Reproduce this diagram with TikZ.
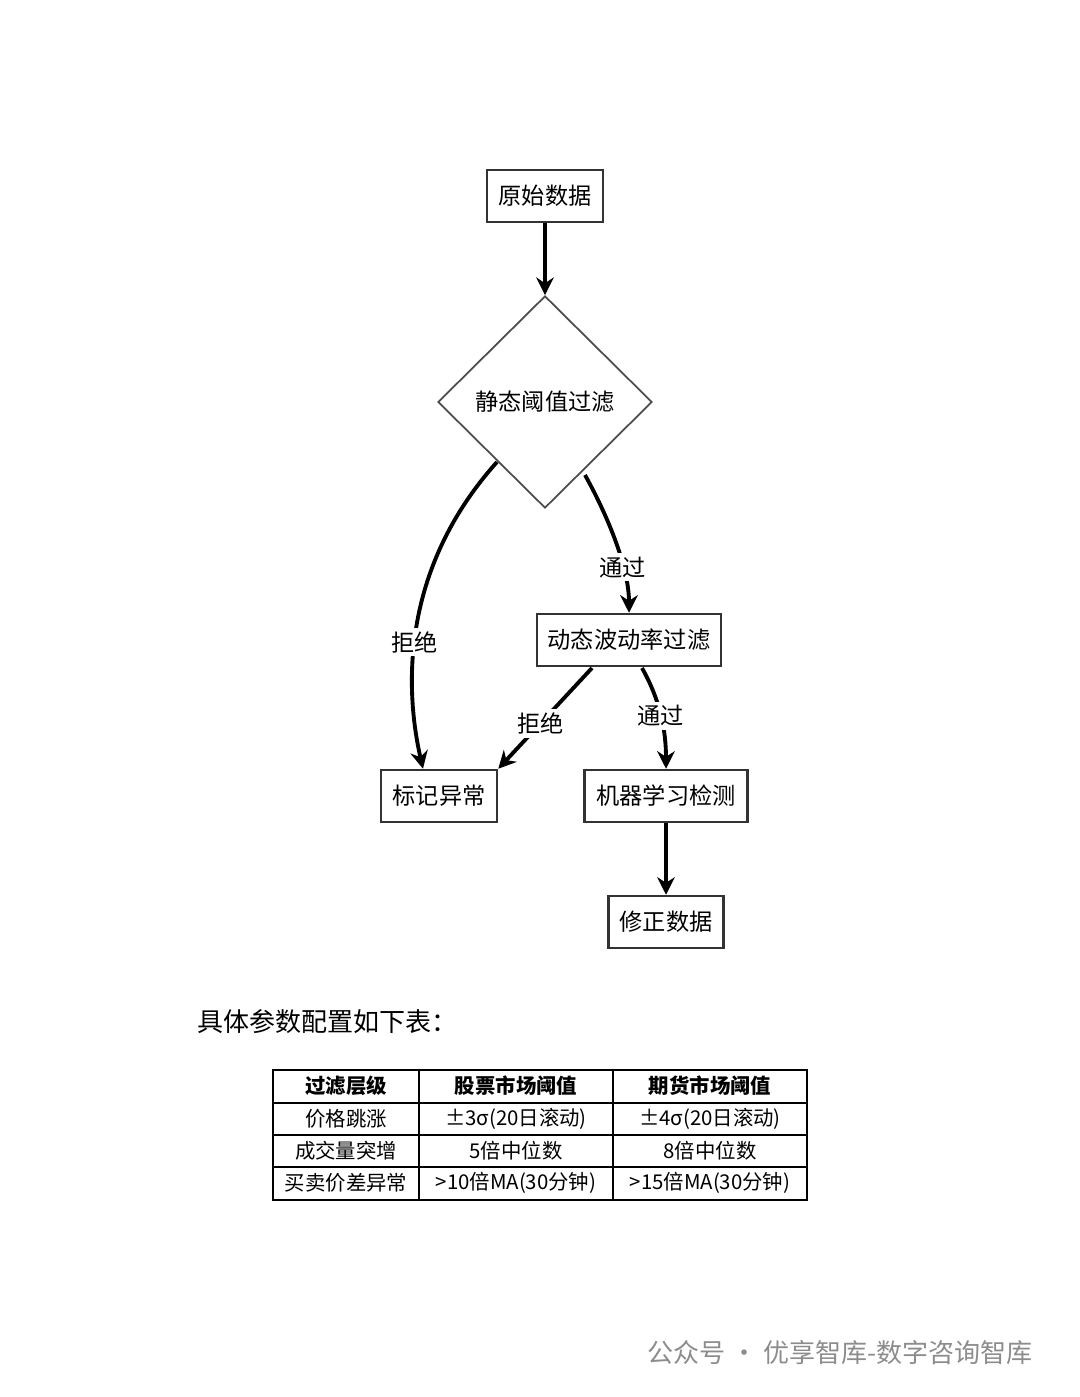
\documentclass[tikz,border=0pt]{standalone}
\usepackage{fontspec}
\newfontfamily\cjk{Noto Sans CJK SC}
\usetikzlibrary{shapes.geometric,arrows.meta}
\begin{document}
\begin{tikzpicture}[x=0.01cm,y=-0.01cm,
    box/.style={draw=black!80,line width=.7pt,fill=white,minimum height=0.52cm,inner xsep=3pt,font=\cjk\fontsize{6.6}{8}\selectfont},
    dec/.style={draw=black!70,diamond,line width=.5pt,minimum width=2.14cm,minimum height=2.12cm,font=\cjk\fontsize{6.6}{8}\selectfont},
    flow/.style={line width=1.1pt,-{Stealth[length=5pt,width=5pt]}},
    lab/.style={fill=white,inner sep=1pt,font=\cjk\fontsize{6.6}{8}\selectfont},
    cell/.style={font=\cjk\fontsize{5.8}{7}\selectfont}]
  \useasboundingbox (0,0) rectangle (1080,1397);

  %% flow chart
  \node[box,minimum width=1.16cm] (raw) at (545,196) {原始数据};
  \node[dec] (static) at (545,402) {静态阈值过滤};
  \node[box,minimum width=1.84cm] (dyn) at (629,640) {动态波动率过滤};
  \node[box,minimum width=1.16cm] (mark) at (439,796) {标记异常};
  \node[box,minimum width=1.63cm] (ml) at (666,796) {机器学习检测};
  \node[box,minimum width=1.15cm] (fix) at (666,922) {修正数据};

  \coordinate (sl) at (497,462);
  \coordinate (sr) at (585,475);
  \coordinate (dl) at (592,668);
  \coordinate (dr) at (642,668);

  \draw[flow] (sl) .. controls (400,570) and (405,690) .. (mark.north -| 423,0)
    node[lab,pos=.55] (rej1) {拒绝};
  \draw[flow] (raw) -- (static);
  \draw[flow] (sr) .. controls (610,520) and (629,570) .. (dyn.north)
    node[lab,pos=.66] (pass1) {通过};
  \draw[flow] (dl) -- (mark.north east)
    node[lab,pos=.55] (rej2) {拒绝};
  \draw[flow] (dr) .. controls (660,700) and (666,730) .. (ml.north)
    node[lab,pos=.5] (pass2) {通过};
  \draw[flow] (ml) -- (fix);

  %% table
  \node[anchor=west,font=\cjk\fontsize{7.4}{9}\selectfont] (title) at (185,1022) {具体参数配置如下表：};
  \draw[line width=.5pt] (273,1070) rectangle (807,1200);
  \foreach \y in {1103,1135,1167} \draw[line width=.4pt] (273,\y) -- (807,\y);
  \foreach \x in {419,613} \draw[line width=.4pt] (\x,1070) -- (\x,1200);
  \node[cell,font=\cjk\bfseries\fontsize{5.8}{7}\selectfont] (h1) at (346,1086) {过滤层级};
  \node[cell,font=\cjk\bfseries\fontsize{5.8}{7}\selectfont] (h2) at (516,1086) {股票市场阈值};
  \node[cell,font=\cjk\bfseries\fontsize{5.8}{7}\selectfont] (h3) at (710,1086) {期货市场阈值};
  \node[cell] (a1) at (346,1119) {价格跳涨};
  \node[cell] (a2) at (516,1119) {±3σ(20日滚动)};
  \node[cell] (a3) at (710,1119) {±4σ(20日滚动)};
  \node[cell] (b1) at (346,1151) {成交量突增};
  \node[cell] (b2) at (516,1151) {5倍中位数};
  \node[cell] (b3) at (710,1151) {8倍中位数};
  \node[cell] (c1) at (346,1183) {买卖价差异常};
  \node[cell] (c2) at (516,1183) {>10倍MA(30分钟)};
  \node[cell] (c3) at (710,1183) {>15倍MA(30分钟)};

  %% watermark
  \node[anchor=east,text=black!45,font=\cjk\fontsize{7.4}{9}\selectfont] (wm) at (1045,1353) {公众号 · 优享智库-数字咨询智库};
\end{tikzpicture}
\end{document}
